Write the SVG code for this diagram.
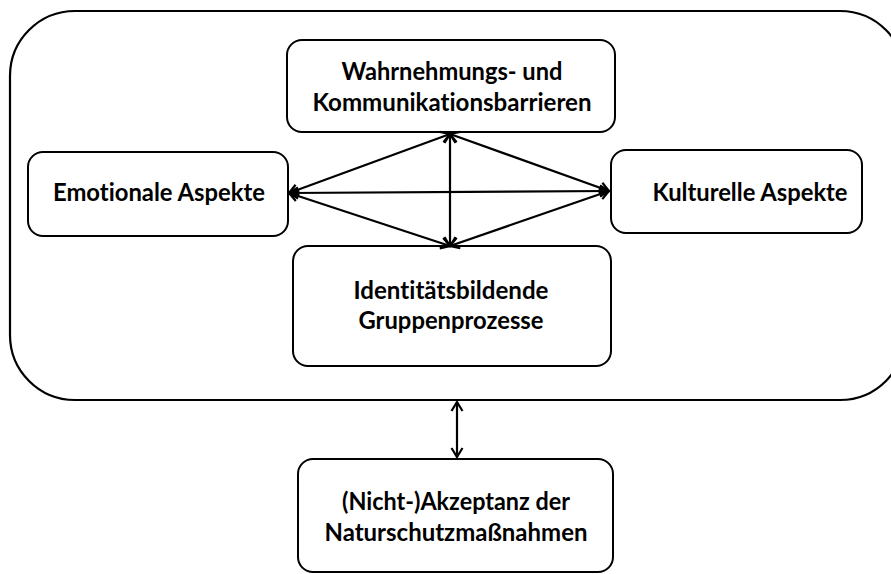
<svg xmlns="http://www.w3.org/2000/svg" width="891" height="574" viewBox="0 0 891 574">
<style>
.box{fill:#fff;stroke:#000;stroke-width:2}
.outer{fill:#fff;stroke:#000;stroke-width:2.2}
.lbl{font-family:Lato,"Liberation Sans",sans-serif;font-weight:bold;font-size:24px;fill:#000;text-anchor:middle;font-variant-ligatures:none}
.con{stroke:#000;stroke-width:2.2;fill:none;marker-start:url(#ah);marker-end:url(#ah)}
</style>
<defs>
<marker id="ah" markerUnits="userSpaceOnUse" viewBox="-12 -8 14 16" markerWidth="14" markerHeight="16" refX="0" refY="0" orient="auto-start-reverse">
<path d="M-9,-5.5 L0,0 L-9,5.5" fill="none" stroke="#000" stroke-width="2.2"/>
</marker>
</defs>
<rect id="outer" class="outer" x="10" y="11" width="895" height="389" rx="65" ry="65"/>
<g id="n-wahrnehmung">
<rect class="box" x="287" y="40" width="328" height="92" rx="15"/>
<text class="lbl" x="452" y="80" textLength="221" lengthAdjust="spacingAndGlyphs">Wahrnehmungs- und</text>
<text class="lbl" x="452" y="111" textLength="279" lengthAdjust="spacingAndGlyphs">Kommunikationsbarrieren</text>
</g>
<g id="n-emotional">
<rect class="box" x="28" y="152" width="260" height="84" rx="15"/>
<text class="lbl" x="159" y="201" textLength="212" lengthAdjust="spacingAndGlyphs">Emotionale Aspekte</text>
</g>
<g id="n-kulturell">
<rect class="box" x="611" y="150" width="251" height="83" rx="15"/>
<text class="lbl" x="750" y="201" textLength="195" lengthAdjust="spacingAndGlyphs">Kulturelle Aspekte</text>
</g>
<g id="n-identitaet">
<rect class="box" x="293" y="246" width="318" height="120" rx="15"/>
<text class="lbl" x="451" y="299" textLength="195" lengthAdjust="spacingAndGlyphs">Identitätsbildende</text>
<text class="lbl" x="451" y="329" textLength="185" lengthAdjust="spacingAndGlyphs">Gruppenprozesse</text>
</g>
<g id="n-akzeptanz">
<rect class="box" x="298" y="459" width="315" height="113" rx="15"/>
<text class="lbl" x="456" y="510" textLength="228" lengthAdjust="spacingAndGlyphs">(Nicht-)Akzeptanz der</text>
<text class="lbl" x="456" y="541" textLength="263" lengthAdjust="spacingAndGlyphs">Naturschutzmaßnahmen</text>
</g>
<g id="connectors">
<line class="con" x1="289" y1="193" x2="450" y2="134"/>
<line class="con" x1="289" y1="193" x2="609" y2="191"/>
<line class="con" x1="289" y1="193" x2="450" y2="246"/>
<line class="con" x1="450" y1="134" x2="609" y2="191"/>
<line class="con" x1="450" y1="134" x2="450" y2="246"/>
<line class="con" x1="609" y1="191" x2="450" y2="246"/>
<line class="con" x1="457" y1="402" x2="457" y2="457"/>
</g>
</svg>
